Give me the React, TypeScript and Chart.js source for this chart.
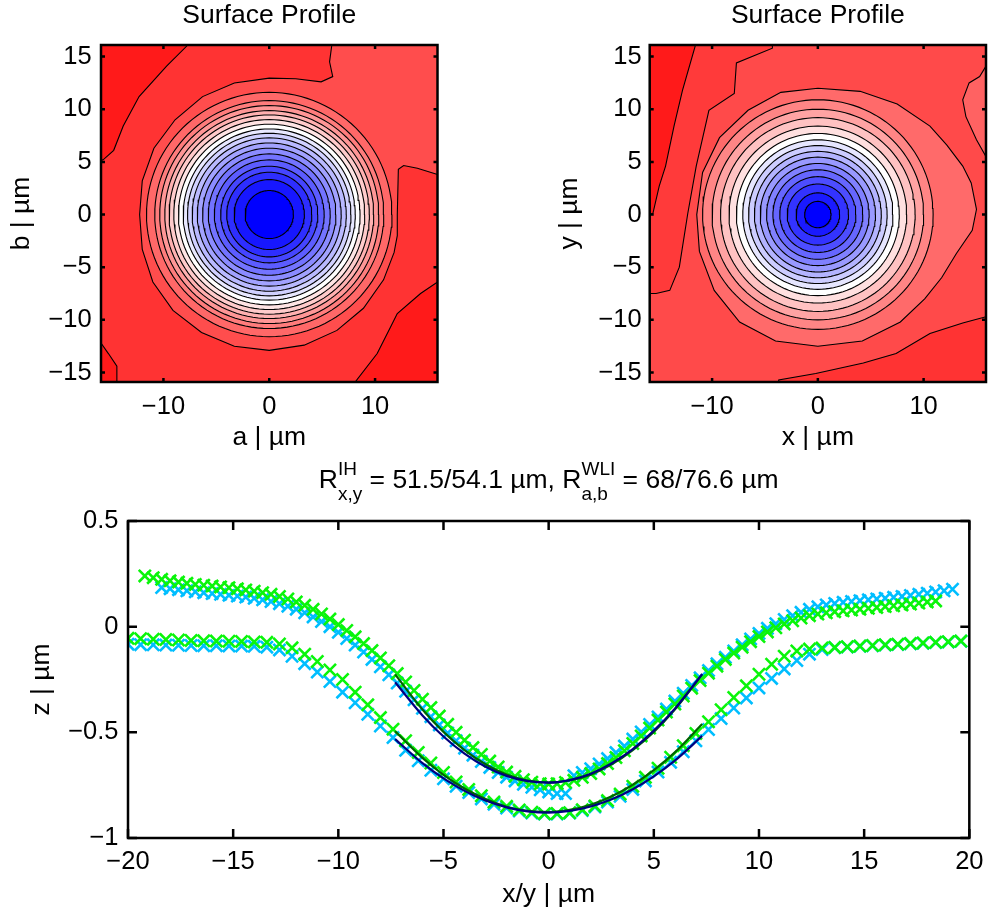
import React, { useEffect, useRef } from 'react';
import { Chart, registerables } from 'chart.js';
Chart.register(...registerables);

const FONT = "'Liberation Sans', Arial, Helvetica, sans-serif";

// ---------- top panels (contour maps) ----------
const MAP_TICKS_X = [-10, 0, 10];
const MAP_TICKS_Y = [-15, -10, -5, 0, 5, 10, 15];

// left map (a,b): contour radii (innermost first) and fill colour inside each
const AB_RADII = [2.28, 3.32, 4.02, 4.59, 5.19, 5.76, 6.3, 6.8, 7.28, 7.72, 8.13, 8.58, 9.02, 9.46, 9.87, 10.35, 10.82, 11.6];
const AB_COLORS = ['#0000ff', '#1717ff', '#2e2eff', '#4545ff', '#5c5cff', '#7373ff', '#8b8bff', '#a2a2ff', '#b9b9ff', '#d0d0ff', '#e8e8ff', '#ffffff', '#ffe4e4', '#ffcaca', '#ffb0b0', '#ff9696', '#ff7c7c', '#ff6868'];
const AB_BG = '#ff1a1a';
const AB_MAIN = [[-7.8, 17], [-7.8, 16.0], [-9.7, 14.1], [-12.3, 11.2], [-13.8, 8.4], [-14.7, 6.1], [-15.7, 5.2], [-17, 4.8], [-17, -12.2], [-15.9, -12.2], [-15.2, -13.2], [-14.4, -14.4], [-14.4, -15.7], [-14.4, -17], [8.2, -17], [8.2, -15.8], [10.2, -13.2], [11.5, -10.6], [12.1, -9.4], [14.3, -7.5], [15.9, -6.4], [17, -6.2], [17, 17]];
const AB_OUTER = [[5.9, 17], [5.9, 16.0], [5.7, 14.5], [6.0, 13.1], [4.9, 12.6], [2.5, 12.9], [0, 12.95], [-3.3, 12.5], [-6.3, 11.2], [-8.9, 9.0], [-10.9, 6.3], [-12.0, 3.2], [-12.25, 0], [-12.0, -3.3], [-11.0, -6.4], [-9.1, -9.1], [-6.4, -11.2], [-3.3, -12.5], [0, -12.9], [3.3, -12.4], [6.4, -11.0], [8.9, -8.9], [10.8, -6.2], [11.8, -3.6], [12.1, -2.0], [12.1, 0], [12.2, 4.3], [12.7, 4.65], [14.0, 4.4], [15.9, 3.8], [17, 3.8], [17, 17]];

// right map (x,y)
const XY_RADII = [1.25, 2.06, 2.9, 3.6, 4.25, 4.85, 5.45, 6.0, 6.55, 7.1, 7.7, 8.4, 9.2, 10.0, 10.9];
const XY_COLORS = ['#0000ff', '#1a1aff', '#3333ff', '#4d4dff', '#6666ff', '#8080ff', '#9999ff', '#b3b3ff', '#ccccff', '#e6e6ff', '#ffffff', '#ffe0e0', '#ffc2c2', '#ffa3a3', '#ff8585'];
const XY_BG = '#ff4a4a';
const XY_LEFT = [[-17, 17], [-4.3, 17], [-4.3, 15.8], [-7.7, 14.4], [-7.9, 11.5], [-10.3, 9.9], [-11.5, 4.6], [-12.3, 0.1], [-13.1, -5.0], [-14.0, -7.2], [-15.3, -7.5], [-17, -7.5]];
const XY_STRIP = [[-17, 17], [-11.6, 17], [-11.6, 16.0], [-12.8, 11.8], [-13.6, 8.4], [-14.4, 4.6], [-15.0, 2.7], [-15.6, 0.1], [-17, 0]];
const XY_EDGE = [[17, 5.5], [15.9, 5.5], [15.0, 7.1], [14.0, 9.3], [13.7, 10.9], [14.3, 12.5], [15.3, 13.1], [15.9, 14.1], [17, 14.1]];
const XY_CORNER = [[-3.7, -17], [-3.7, -15.7], [-0.2, -15.1], [4.3, -14.1], [7.4, -13.2], [10.6, -11.3], [13.7, -10.3], [15.9, -9.7], [17, -9.6], [17, -17]];
const XY_OUTER = [[0, 12.0], [-3.5, 11.6], [-6.6, 9.9], [-9.3, 7.3], [-10.9, 4.0], [-11.45, 0], [-11.2, -3.5], [-9.8, -7.2], [-7.4, -10.2], [-4.0, -12.0], [0, -12.5], [4.2, -12.0], [7.8, -10.2], [10.1, -8.0], [11.7, -6.0], [13.1, -3.7], [14.6, -1.5], [15.0, 0.5], [14.5, 3], [13.7, 4.6], [12.2, 6.6], [10.6, 8.4], [7.5, 10.5], [4, 11.7]];

// ---------- bottom panel (profiles) ----------
const PROF_TICKS_X = [-20, -15, -10, -5, 0, 5, 10, 15, 20];
const PROF_TICKS_Y = [-1, -0.5, 0, 0.5];

const UP_X = [-19.2, -18.8, -18.4, -18.0, -17.6, -17.2, -16.8, -16.4, -16.0, -15.6,
  -15.2, -14.8, -14.4, -14.0, -13.6, -13.2, -12.8, -12.4, -12.0, -11.6,
  -11.2, -10.8, -10.4, -10.0, -9.6, -9.2, -8.8, -8.4, -8.0, -7.6,
  -7.2, -6.8, -6.4, -6.0, -5.6, -5.2, -4.8, -4.4, -4.0, -3.6,
  -3.2, -2.8, -2.4, -2.0, -1.6, -1.2, -0.8, -0.4, 0.0, 0.4,
  0.8, 1.2, 1.6, 2.0, 2.4, 2.8, 3.2, 3.6, 4.0, 4.4,
  4.8, 5.2, 5.6, 6.0, 6.4, 6.8, 7.2, 7.6, 8.0, 8.4,
  8.8, 9.2, 9.6, 10.0, 10.4, 10.8, 11.2, 11.6, 12.0, 12.4,
  12.8, 13.2, 13.6, 14.0, 14.4, 14.8, 15.2, 15.6, 16.0, 16.4,
  16.8, 17.2, 17.6, 18.0, 18.4, 18.8, 19.2];
const UP_GREEN = [0.24, 0.232, 0.224, 0.217, 0.211, 0.205, 0.2, 0.196, 0.192, 0.188,
  0.184, 0.179, 0.174, 0.168, 0.161, 0.153, 0.143, 0.131, 0.117, 0.101,
  0.082, 0.06, 0.036, 0.01, -0.018, -0.048, -0.08, -0.113, -0.148, -0.185,
  -0.222, -0.262, -0.302, -0.343, -0.383, -0.423, -0.462, -0.5, -0.537, -0.572,
  -0.605, -0.636, -0.664, -0.688, -0.708, -0.724, -0.736, -0.743, -0.745, -0.743,
  -0.737, -0.727, -0.713, -0.695, -0.673, -0.648, -0.619, -0.587, -0.553, -0.517,
  -0.48, -0.442, -0.404, -0.366, -0.328, -0.291, -0.255, -0.22, -0.187, -0.155,
  -0.125, -0.097, -0.071, -0.047, -0.025, -0.005, 0.013, 0.028, 0.041, 0.052,
  0.06, 0.066, 0.071, 0.075, 0.079, 0.083, 0.087, 0.091, 0.095, 0.099,
  0.103, 0.107, 0.112, 0.117, 0.122, null, null];
const UP_BLUE = [null, null, 0.185, 0.18, 0.175, 0.17, 0.165, 0.161, 0.157, 0.153,
  0.149, 0.145, 0.14, 0.134, 0.127, 0.119, 0.109, 0.097, 0.083, 0.066,
  0.046, 0.024, 0.0, -0.027, -0.056, -0.087, -0.12, -0.155, -0.19, -0.228,
  -0.267, -0.306, -0.346, -0.386, -0.426, -0.465, -0.503, -0.54, -0.575, -0.608,
  -0.638, -0.666, -0.69, -0.712, -0.73, -0.746, -0.76, -0.772, -0.782, -0.79,
  -0.79, -0.705, -0.69, -0.672, -0.65, -0.624, -0.596, -0.565, -0.532, -0.498,
  -0.463, -0.427, -0.39, -0.352, -0.315, -0.278, -0.242, -0.208, -0.176, -0.145,
  -0.115, -0.086, -0.058, -0.032, -0.008, 0.014, 0.034, 0.052, 0.068, 0.082,
  0.094, 0.103, 0.11, 0.115, 0.119, 0.123, 0.127, 0.131, 0.135, 0.139,
  0.143, 0.148, 0.153, 0.158, 0.164, 0.17, 0.177];

const LOW_X = [-20, -19.4, -18.8, -18.2, -17.6, -17.0, -16.4, -15.8, -15.2, -14.6,
  -14.0, -13.4, -12.8, -12.2, -11.6, -11.0, -10.4, -9.8, -9.2, -8.6,
  -8.0, -7.4, -6.8, -6.2, -5.6, -5.0, -4.4, -3.8, -3.2, -2.6,
  -2.0, -1.4, -0.8, -0.2, 0.4, 1.0, 1.6, 2.2, 2.8, 3.4,
  4.0, 4.6, 5.2, 5.8, 6.4, 7.0, 7.6, 8.2, 8.8, 9.4,
  10.0, 10.6, 11.2, 11.8, 12.4, 13.0, 13.6, 14.2, 14.8, 15.4,
  16.0, 16.6, 17.2, 17.8, 18.4, 19.0, 19.6];
const LOW_GREEN = [-0.055, -0.057, -0.059, -0.061, -0.063, -0.065, -0.067, -0.068, -0.069, -0.07,
  -0.072, -0.074, -0.082, -0.1, -0.13, -0.165, -0.205, -0.25, -0.31, -0.37,
  -0.43, -0.485, -0.54, -0.595, -0.645, -0.69, -0.735, -0.77, -0.8, -0.83,
  -0.85, -0.867, -0.878, -0.885, -0.884, -0.88, -0.866, -0.848, -0.823, -0.792,
  -0.755, -0.713, -0.67, -0.618, -0.563, -0.505, -0.45, -0.393, -0.335, -0.28,
  -0.225, -0.178, -0.14, -0.115, -0.106, -0.101, -0.098, -0.095, -0.092, -0.089,
  -0.086, -0.083, -0.08, -0.077, -0.074, -0.071, -0.068];
const LOW_BLUE = [-0.083, -0.085, -0.086, -0.087, -0.088, -0.089, -0.09, -0.09, -0.091, -0.092,
  -0.093, -0.097, -0.11, -0.14, -0.175, -0.215, -0.26, -0.31, -0.36, -0.415,
  -0.47, -0.525, -0.585, -0.635, -0.68, -0.72, -0.755, -0.785, -0.815, -0.84,
  -0.858, -0.872, -0.882, -0.887, -0.886, -0.882, -0.87, -0.853, -0.83, -0.803,
  -0.77, -0.73, -0.688, -0.642, -0.592, -0.54, -0.487, -0.435, -0.385, -0.337,
  -0.29, -0.245, -0.2, -0.16, -0.13, -0.108, -0.099, -0.096, -0.093, -0.09,
  -0.087, -0.084, -0.081, -0.078, -0.075, -0.072, -0.069];

const FIT_X = [-7.3, -6, -5, -4, -3, -2, -1, 0, 1, 2, 3, 4, 5, 6, 7.3];
const FIT_NAVY_UP = [-0.263, -0.42, -0.52, -0.601, -0.663, -0.706, -0.731, -0.738, -0.726, -0.696, -0.646, -0.579, -0.492, -0.388, -0.224];
const FIT_GREEN_UP = [-0.226, -0.392, -0.498, -0.584, -0.651, -0.7, -0.728, -0.738, -0.728, -0.7, -0.651, -0.584, -0.498, -0.392, -0.226];
const FIT_NAVY_LOW = [-0.532, -0.646, -0.718, -0.777, -0.823, -0.855, -0.874, -0.88, -0.872, -0.851, -0.817, -0.769, -0.708, -0.634, -0.517];
const FIT_GREEN_LOW = [-0.495, -0.621, -0.701, -0.766, -0.816, -0.852, -0.872, -0.877, -0.867, -0.843, -0.803, -0.748, -0.679, -0.595, -0.461];

const GREEN = 'rgb(10,245,10)';
const SKY = 'rgb(0,190,255)';
const NAVY = 'rgb(0,0,128)';
const DKGREEN = 'rgb(0,100,0)';

// ---------- helpers ----------
const fmt = (v: number) => (v < 0 ? '\u2212' : '') + String(Math.abs(v));
const pts = (xs: number[], ys: (number | null)[]) =>
  xs.map((x, i) => ({ x, y: ys[i] })).filter((p) => p.y !== null);
const poly = (pairs: number[][]) => {
  const out = pairs.map(([x, y]) => ({ x, y }));
  out.push({ ...out[0] });
  return out;
};
const circle = (r: number) => {
  const n = 120;
  const out: { x: number; y: number }[] = [];
  for (let i = 0; i <= n; i++) {
    const t = (2 * Math.PI * i) / n;
    out.push({ x: r * Math.cos(t), y: r * Math.sin(t) });
  }
  return out;
};

const framePlugin = {
  id: 'matFrame',
  afterDraw(chart: any, _args: any, opts: any) {
    const { ctx, chartArea: a, scales } = chart;
    ctx.save();
    ctx.strokeStyle = '#000';
    ctx.lineWidth = opts.lineWidth;
    const L = opts.tickLen;
    ctx.beginPath();
    for (const t of scales.x.ticks) {
      const px = scales.x.getPixelForValue(t.value);
      ctx.moveTo(px, a.bottom);
      ctx.lineTo(px, a.bottom - L);
      ctx.moveTo(px, a.top);
      ctx.lineTo(px, a.top + L);
    }
    for (const t of scales.y.ticks) {
      const py = scales.y.getPixelForValue(t.value);
      ctx.moveTo(a.left, py);
      ctx.lineTo(a.left + L, py);
      ctx.moveTo(a.right, py);
      ctx.lineTo(a.right - L, py);
    }
    ctx.stroke();
    ctx.strokeRect(a.left, a.top, a.right - a.left, a.bottom - a.top);
    ctx.restore();
  },
};

const richTitlePlugin = {
  id: 'richTitle',
  afterDraw(chart: any, _args: any, opts: any) {
    const { ctx, chartArea: a } = chart;
    const segs: { t: string; sup?: string; sub?: string }[] = opts.segments;
    const big = `${opts.size}px ${FONT}`;
    const small = `${opts.smallSize}px ${FONT}`;
    ctx.save();
    ctx.fillStyle = '#000';
    ctx.textBaseline = 'alphabetic';
    ctx.textAlign = 'left';
    let total = 0;
    const widths = segs.map((s) => {
      ctx.font = big;
      const w1 = ctx.measureText(s.t).width;
      ctx.font = small;
      const w2 = Math.max(s.sup ? ctx.measureText(s.sup).width : 0, s.sub ? ctx.measureText(s.sub).width : 0);
      total += w1 + w2;
      return [w1, w2];
    });
    let x = (a.left + a.right) / 2 - total / 2;
    const base = a.top - opts.offset;
    segs.forEach((s, i) => {
      ctx.font = big;
      ctx.fillText(s.t, x, base);
      x += widths[i][0];
      ctx.font = small;
      if (s.sup) ctx.fillText(s.sup, x, base - opts.supShift);
      if (s.sub) ctx.fillText(s.sub, x, base + opts.subShift);
      x += widths[i][1];
    });
    ctx.restore();
  },
};

const tickFont = { family: FONT, size: 25.5, weight: 'normal' as const };
const labelFont = { family: FONT, size: 26.5, weight: 'normal' as const };

function mapConfig(p: any): any {
  const ds: any[] = [];
  const base = { fill: 'shape', pointRadius: 0, tension: 0, clip: 0, borderColor: '#000', borderWidth: 1.1 };
  ds.push({ ...base, data: poly([[-17, -17], [17, -17], [17, 17], [-17, 17]]), backgroundColor: p.bg, borderColor: 'rgba(0,0,0,0)' });
  for (const r of p.regions) ds.push({ ...base, data: poly(r.pts), backgroundColor: r.color });
  for (let i = p.radii.length - 1; i >= 0; i--) ds.push({ ...base, data: circle(p.radii[i]), backgroundColor: p.colors[i] });
  ds.forEach((d, i) => (d.order = ds.length - i));
  return {
    type: 'line',
    data: { datasets: ds },
    options: {
      responsive: false,
      animation: false,
      events: [],
      layout: { padding: { left: 0, top: 0, right: p.rightPad, bottom: 0 } },
      plugins: {
        legend: { display: false },
        tooltip: { enabled: false },
        title: { display: true, text: 'Surface Profile', font: labelFont, color: '#000', padding: { top: 0, bottom: 13.2 }, fullSize: false },
        matFrame: { lineWidth: 2.5, tickLen: 4 },
      },
      scales: {
        x: {
          type: 'linear', min: -15.9, max: 15.9,
          afterBuildTicks: (s: any) => { s.ticks = MAP_TICKS_X.map((v) => ({ value: v })); },
          afterFit: (s: any) => { s.height = 78; },
          grid: { display: false, drawTicks: false }, border: { display: false },
          ticks: { font: tickFont, color: '#000', padding: 10, maxRotation: 0, callback: (v: number) => fmt(v) },
          title: { display: true, text: p.xLabel, font: labelFont, color: '#000', padding: { top: 0, bottom: 6.2 } },
        },
        y: {
          type: 'linear', min: -15.9, max: 16.1,
          afterBuildTicks: (s: any) => { s.ticks = MAP_TICKS_Y.map((v) => ({ value: v })); },
          afterFit: (s: any) => { s.width = p.yWidth; },
          grid: { display: false, drawTicks: false }, border: { display: false },
          ticks: { font: tickFont, color: '#000', padding: p.yTickPad, callback: (v: number) => fmt(v) },
          title: { display: true, text: p.yLabel, font: labelFont, color: '#000', padding: { top: p.yTitlePad, bottom: 0 } },
        },
      },
    },
    plugins: [framePlugin],
  };
}

function profileConfig(): any {
  const marker = (data: any, color: string) => ({
    data, showLine: false, pointStyle: 'crossRot', pointRadius: 8.6, pointBorderWidth: 2.6,
    borderColor: color, backgroundColor: color, pointBorderColor: color, clip: 0,
  });
  const fit = (data: any, color: string) => ({
    data, pointRadius: 0, borderWidth: 2.2, borderColor: color, fill: false,
    cubicInterpolationMode: 'monotone', clip: 0,
  });
  const ds: any[] = [
    fit(pts(FIT_X, FIT_NAVY_UP), NAVY),
    fit(pts(FIT_X, FIT_NAVY_LOW), NAVY),
    fit(pts(FIT_X, FIT_GREEN_UP), DKGREEN),
    fit(pts(FIT_X, FIT_GREEN_LOW), DKGREEN),
    marker(pts(UP_X, UP_GREEN), GREEN),
    marker(pts(LOW_X, LOW_GREEN), GREEN),
    marker(pts(UP_X, UP_BLUE), SKY),
    marker(pts(LOW_X, LOW_BLUE), SKY),
  ];
  return {
    type: 'line',
    data: { datasets: ds },
    options: {
      responsive: false,
      animation: false,
      events: [],
      layout: { padding: { left: 0, top: 71, right: 15, bottom: 0 } },
      plugins: {
        legend: { display: false },
        tooltip: { enabled: false },
        matFrame: { lineWidth: 2.5, tickLen: 9 },
        richTitle: {
          size: 26.5, smallSize: 19, offset: 32.7, supShift: 13.3, subShift: 11.5,
          segments: [
            { t: 'R', sup: 'IH', sub: 'x,y' },
            { t: ' = 51.5/54.1 \u00b5m, R', sup: 'WLI', sub: 'a,b' },
            { t: ' = 68/76.6 \u00b5m' },
          ],
        },
      },
      scales: {
        x: {
          type: 'linear', min: -20, max: 20,
          afterBuildTicks: (s: any) => { s.ticks = PROF_TICKS_X.map((v) => ({ value: v })); },
          afterFit: (s: any) => { s.height = 76; },
          grid: { display: false, drawTicks: false }, border: { display: false },
          ticks: { font: tickFont, color: '#000', padding: 8.5, maxRotation: 0, callback: (v: number) => fmt(v) },
          title: { display: true, text: 'x/y | \u00b5m', font: labelFont, color: '#000', padding: { top: 0, bottom: 3.2 } },
        },
        y: {
          type: 'linear', min: -1, max: 0.5,
          afterBuildTicks: (s: any) => { s.ticks = PROF_TICKS_Y.map((v) => ({ value: v })); },
          afterFit: (s: any) => { s.width = 128; },
          grid: { display: false, drawTicks: false }, border: { display: false },
          ticks: { font: tickFont, color: '#000', padding: 9.5, callback: (v: number) => fmt(v) },
          title: { display: true, text: 'z | \u00b5m', font: labelFont, color: '#000', padding: { top: 25.7, bottom: 0 } },
        },
      },
    },
    plugins: [framePlugin, richTitlePlugin],
  };
}

export default function App() {
  const c1 = useRef<HTMLCanvasElement>(null);
  const c2 = useRef<HTMLCanvasElement>(null);
  const c3 = useRef<HTMLCanvasElement>(null);
  useEffect(() => {
    const charts = [
      new Chart(c1.current as HTMLCanvasElement, mapConfig({
        xLabel: 'a | \u00b5m', yLabel: 'b | \u00b5m', yWidth: 101, yTickPad: 9.3, yTitlePad: 6.2, rightPad: 58.5,
        bg: AB_BG, radii: AB_RADII, colors: AB_COLORS,
        regions: [{ pts: AB_MAIN, color: '#ff3333' }, { pts: AB_OUTER, color: '#ff4d4d' }],
      })),
      new Chart(c2.current as HTMLCanvasElement, mapConfig({
        xLabel: 'x | \u00b5m', yLabel: 'y | \u00b5m', yWidth: 153.7, yTickPad: 8, yTitlePad: 57.5, rightPad: 6,
        bg: XY_BG, radii: XY_RADII, colors: XY_COLORS,
        regions: [
          { pts: XY_LEFT, color: '#ff3a3a' },
          { pts: XY_STRIP, color: '#ff1a1a' },
          { pts: XY_EDGE, color: '#ff6262' },
          { pts: XY_CORNER, color: '#ff3333' },
          { pts: XY_OUTER, color: '#ff6a6a' },
        ],
      })),
      new Chart(c3.current as HTMLCanvasElement, profileConfig()),
    ];
    return () => charts.forEach((c) => c.destroy());
  }, []);
  return (
    <div style={{ position: 'absolute', left: 0, top: 0, width: 992, height: 914, background: '#fff', overflow: 'hidden' }}>
      <canvas ref={c1} width={496} height={460} style={{ position: 'absolute', left: 0, top: 0, width: 496, height: 460 }} />
      <canvas ref={c2} width={496} height={460} style={{ position: 'absolute', left: 496, top: 0, width: 496, height: 460 }} />
      <canvas ref={c3} width={992} height={464} style={{ position: 'absolute', left: 0, top: 450, width: 992, height: 464 }} />
    </div>
  );
}
